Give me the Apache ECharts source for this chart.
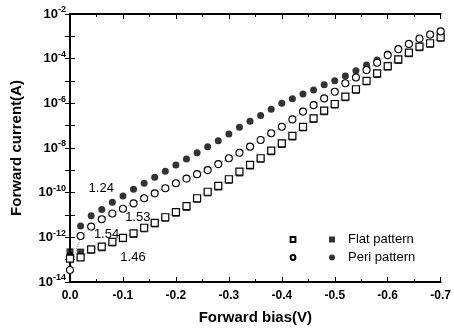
<!DOCTYPE html>
<html>
<head>
<meta charset="utf-8">
<script src="https://cdn.jsdelivr.net/npm/echarts@6/dist/echarts.min.js"></script>
<style>
html,body{margin:0;padding:0;background:#fff;}
#box{width:454px;height:333px;}
</style>
</head>
<body>
<div id="box"></div>
<script>
// forward bias (V), one point every 0.02 V
var bias = [0, -0.02, -0.04, -0.06, -0.08, -0.10, -0.12, -0.14, -0.16, -0.18, -0.20, -0.22,
	-0.24, -0.26, -0.28, -0.30, -0.32, -0.34, -0.36, -0.38, -0.40, -0.42, -0.44, -0.46,
	-0.48, -0.50, -0.52, -0.54, -0.56, -0.58, -0.60, -0.62, -0.64, -0.66, -0.68, -0.70];
// log10 of forward current (A)
var flatOpen = [-12.95, -12.90, -12.54, -12.42, -12.20, -12.02, -11.82, -11.57, -11.35, -11.10, -10.87, -10.60,
	-10.25, -9.96, -9.70, -9.40, -9.06, -8.76, -8.46, -8.12, -7.79, -7.46, -7.05, -6.67,
	-6.33, -6.03, -5.70, -5.37, -4.99, -4.66, -4.33, -4.03, -3.73, -3.46, -3.31, -3.04];
var flatFilled = [-12.65, -12.66, -12.58, -12.47, -12.25, -12.06, -11.87, -11.62, -11.40, -11.15, -10.92, -10.66,
	-10.30, -10.01, -9.75, -9.45, -9.12, -8.81, -8.51, -8.17, -7.84, -7.51, -7.10, -6.72,
	-6.38, -6.08, -5.75, -5.42, -5.04, -4.71, -4.38, -4.08, -3.78, -3.51, -3.36, -3.09];
var periOpen = [-13.46, -11.94, -11.52, -11.19, -10.93, -10.72, -10.48, -10.25, -10.03, -9.80, -9.58, -9.37,
	-9.17, -8.99, -8.72, -8.46, -8.21, -7.94, -7.64, -7.34, -7.05, -6.72, -6.37, -6.08,
	-5.78, -5.48, -5.10, -4.84, -4.51, -4.18, -3.84, -3.58, -3.34, -3.10, -2.92, -2.78];
var periFilled = [-12.80, -11.49, -11.03, -10.75, -10.43, -10.15, -9.85, -9.58, -9.31, -9.04, -8.76, -8.49,
	-8.21, -7.94, -7.67, -7.37, -7.07, -6.80, -6.54, -6.27, -6.00, -5.80, -5.58, -5.40,
	-5.17, -4.99, -4.78, -4.54, -4.28, -4.06, -3.79, -3.55, -3.31, -3.13, -2.94, -2.84];
// ideality factors written on the plot: [text, bias, log current]
var notes = [['1.24', -0.059, -9.8], ['1.53', -0.128, -11.12], ['1.54', -0.069, -11.85], ['1.46', -0.119, -12.9]];
var xTicks = [0, -0.7, 0.1];      // max, min, step
var yTicks = [-14, -2, 1];        // decades

function pairs(ys){
	var out = [];
	for (var i = 0; i < bias.length; i++) out.push([bias[i], ys[i]]);
	return out;
}

var chart = echarts.init(document.getElementById('box'));
var font = '"Liberation Sans", Arial, sans-serif';
var tickIn = {show: true, inside: true, length: 5, lineStyle: {color: '#000', width: 1}};
var minorIn = {show: true, splitNumber: 2, length: 3, lineStyle: {color: '#000', width: 1}};

var option = {
	animation: false,
	backgroundColor: '#fff',
	textStyle: {fontFamily: font},
	grid: {left: 70, right: 12, top: 14, bottom: 51},
	xAxis: [{
		type: 'value', inverse: true, min: xTicks[1], max: xTicks[0], interval: xTicks[2],
		name: 'Forward bias(V)', nameLocation: 'middle', nameGap: 28,
		nameTextStyle: {fontSize: 15, fontWeight: 'bold', color: '#000', fontFamily: font},
		axisLine: {lineStyle: {color: '#000', width: 2}},
		axisTick: tickIn, minorTick: minorIn, splitLine: {show: false},
		axisLabel: {color: '#000', fontSize: 12, fontWeight: 'bold', margin: 8, fontFamily: font,
			formatter: function(v){ return Math.abs(v) < 1e-9 ? '0.0' : v.toFixed(1); }}
	}, {
		type: 'value', position: 'top', inverse: true, min: xTicks[1], max: xTicks[0], interval: xTicks[2],
		axisLine: {lineStyle: {color: '#000', width: 2}},
		axisTick: tickIn, minorTick: minorIn, splitLine: {show: false}, axisLabel: {show: false}
	}],
	yAxis: [{
		type: 'value', min: yTicks[0], max: yTicks[1], interval: yTicks[2],
		name: 'Forward current(A)', nameLocation: 'middle', nameGap: 46,
		nameTextStyle: {fontSize: 15, fontWeight: 'bold', color: '#000', fontFamily: font},
		axisLine: {lineStyle: {color: '#000', width: 2}},
		axisTick: tickIn, splitLine: {show: false},
		axisLabel: {margin: 4,
			formatter: function(v){ return (v % 2 === 0) ? '{b|10}{s|' + v + '}' : ''; },
			rich: {
				b: {fontSize: 13, fontWeight: 'bold', color: '#000', fontFamily: font},
				s: {fontSize: 9, fontWeight: 'bold', color: '#000', fontFamily: font, padding: [0, 0, 8, 0]}
			}}
	}, {
		type: 'value', position: 'right', min: yTicks[0], max: yTicks[1], interval: yTicks[2],
		axisLine: {lineStyle: {color: '#000', width: 2}},
		axisTick: tickIn, splitLine: {show: false}, axisLabel: {show: false}
	}],
	legend: [{
		orient: 'vertical', left: 284, top: 228, itemWidth: 6, itemHeight: 6, itemGap: 5,
		data: ['flat-open', 'peri-open'], formatter: function(){ return ' '; }, selectedMode: false,
		textStyle: {fontSize: 13, fontFamily: font}
	}, {
		orient: 'vertical', left: 324, top: 228, itemWidth: 6, itemHeight: 6, itemGap: 5,
		data: ['Flat pattern', 'Peri pattern'], selectedMode: false,
		textStyle: {fontSize: 13, color: '#000', fontFamily: font, padding: [0, 0, 0, 8]}
	}],
	series: [{
		name: 'Flat pattern', type: 'scatter', data: pairs(flatFilled), symbol: 'rect', symbolSize: 7,
		itemStyle: {color: '#000'}, z: 2
	}, {
		name: 'flat-open', type: 'line', data: pairs(flatOpen), symbol: 'rect', symbolSize: 7,
		showSymbol: true, itemStyle: {color: '#fff', borderColor: '#000', borderWidth: 1.2},
		lineStyle: {color: '#999', width: 1, type: 'dotted'}, z: 3
	}, {
		name: 'Peri pattern', type: 'scatter', data: pairs(periFilled), symbol: 'circle', symbolSize: 7,
		itemStyle: {color: '#000'}, z: 2
	}, {
		name: 'peri-open', type: 'line', data: pairs(periOpen), symbol: 'circle', symbolSize: 7,
		showSymbol: true, itemStyle: {color: '#fff', borderColor: '#000', borderWidth: 1.1},
		lineStyle: {color: '#999', width: 1, type: 'dotted'}, z: 3
	}, {
		name: 'notes', type: 'scatter', symbolSize: 1, silent: true, itemStyle: {opacity: 0},
		data: notes.map(function(n){ return {value: [n[1], n[2]], name: n[0]}; }),
		label: {show: true, position: 'inside', formatter: '{b}', color: '#000', opacity: 1,
			fontSize: 13, fontFamily: font}
	}]
};
chart.setOption(option);
</script>
</body>
</html>
